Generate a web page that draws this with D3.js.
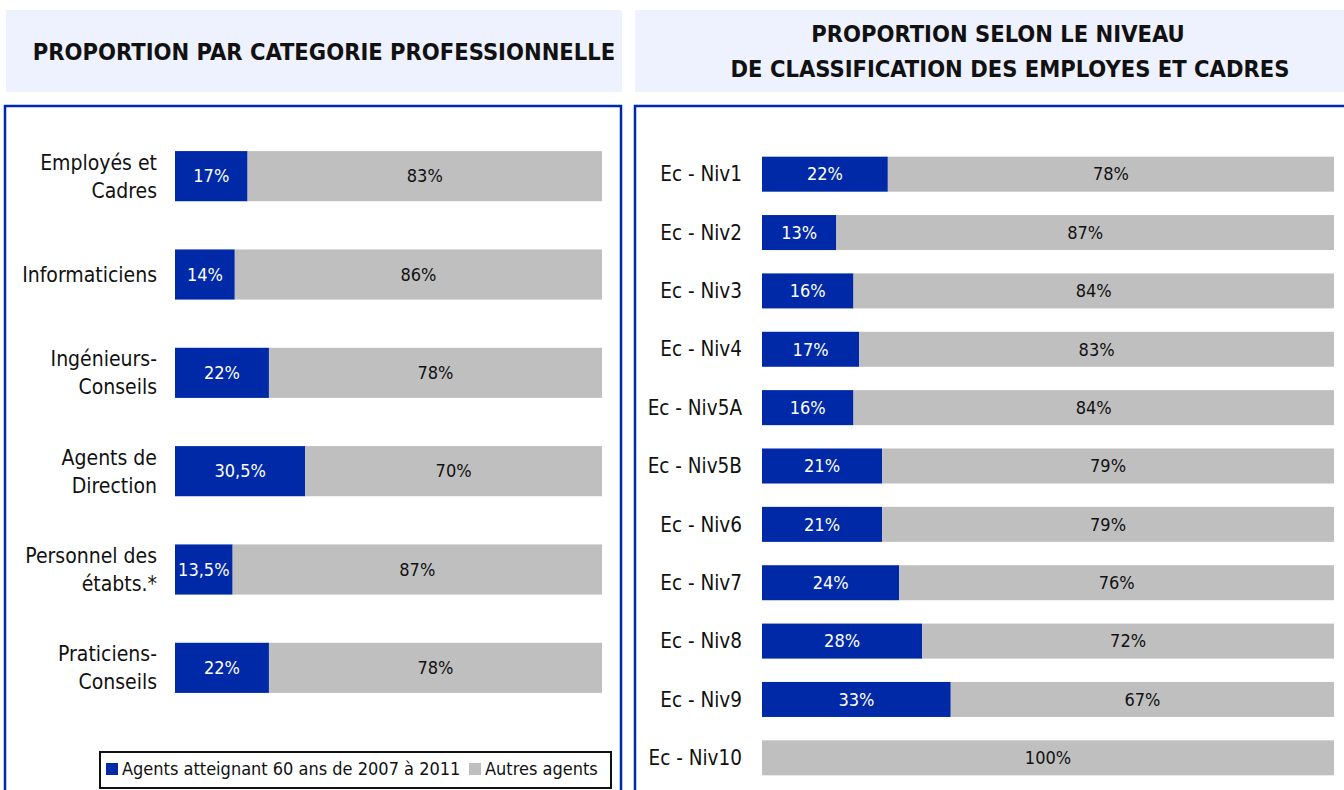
<!DOCTYPE html>
<html>
<head>
<meta charset="utf-8">
<script src="https://cdn.jsdelivr.net/npm/d3@7"></script>
<style>
  body { margin: 0; background: #fff; }
  svg text { font-family: "Liberation Sans Narrow", "DejaVu Sans Condensed", Arial, sans-serif; }
</style>
</head>
<body>
<div id="chart"></div>
<script>
// left panel : categories professionnelles
var catLabels = [["Employés et", "Cadres"], ["Informaticiens"], ["Ingénieurs-", "Conseils"],
                 ["Agents de", "Direction"], ["Personnel des", "étabts.*"], ["Praticiens-", "Conseils"]];
var catAgents = [17, 14, 22, 30.5, 13.5, 22];
var catAutres = [83, 86, 78, 70, 87, 78];

// right panel : niveaux de classification
var nivLabels = ["Ec - Niv1", "Ec - Niv2", "Ec - Niv3", "Ec - Niv4", "Ec - Niv5A", "Ec - Niv5B",
                 "Ec - Niv6", "Ec - Niv7", "Ec - Niv8", "Ec - Niv9", "Ec - Niv10"];
var nivAgents = [22, 13, 16, 17, 16, 21, 21, 24, 28, 33, 0];
var nivAutres = [78, 87, 84, 83, 84, 79, 79, 76, 72, 67, 100];

var legendLabels = ["Agents atteignant 60 ans de 2007 à 2011", "Autres agents"];

var blue = "#0029a8", grey = "#bfbfbf", headerBg = "#eef2fe";
var fmt = function(v) { return String(v).replace(".", ",") + "%"; };

var svg = d3.select("#chart").append("svg")
    .attr("width", 1344)
    .attr("height", 790);

// header boxes
svg.append("rect").attr("x", 6).attr("y", 10).attr("width", 616).attr("height", 82).attr("fill", headerBg);
svg.append("rect").attr("x", 635).attr("y", 10).attr("width", 709).attr("height", 82).attr("fill", headerBg);

function title(x, y, txt) {
    svg.append("text")
        .attr("x", x).attr("y", y)
        .attr("text-anchor", "middle")
        .style("font-size", "23.5px").style("font-weight", "bold").style("fill", "#111")
        .text(txt);
}
title(324, 60, "PROPORTION PAR CATEGORIE PROFESSIONNELLE");
title(998, 42, "PROPORTION SELON LE NIVEAU");
title(1010, 77, "DE CLASSIFICATION DES EMPLOYES ET CADRES");

// panel frames
svg.append("path")
    .attr("d", "M5,800 V106 H621 V800")
    .attr("fill", "none").attr("stroke", blue).attr("stroke-width", 2.5);
svg.append("path")
    .attr("d", "M635,800 V106 H1350")
    .attr("fill", "none").attr("stroke", blue).attr("stroke-width", 2.5);

function drawBars(g, labels, agents, autres, xRange, yRange, pad, labelSize, labelX) {
    var x = d3.scaleLinear().domain([0, 100]).range(xRange);
    var y = d3.scaleBand().domain(d3.range(labels.length)).range(yRange).paddingInner(pad).paddingOuter(pad / 2);
    var data = labels.map(function(l, i) { return { label: l, a: agents[i], b: autres[i], i: i }; });

    var rows = g.selectAll(".row").data(data).enter().append("g").attr("class", "row");

    rows.filter(function(d) { return d.a > 0; }).append("rect")
        .attr("x", x(0))
        .attr("y", function(d) { return y(d.i); })
        .attr("width", function(d) { return x(d.a) - x(0); })
        .attr("height", y.bandwidth())
        .attr("fill", blue);

    rows.append("rect")
        .attr("x", function(d) { return x(d.a); })
        .attr("y", function(d) { return y(d.i); })
        .attr("width", function(d) { return x(100) - x(d.a); })
        .attr("height", y.bandwidth())
        .attr("fill", grey);

    rows.filter(function(d) { return d.a > 0; }).append("text")
        .attr("x", function(d) { return (x(0) + x(d.a)) / 2; })
        .attr("y", function(d) { return y(d.i) + y.bandwidth() / 2; })
        .attr("dy", "0.35em")
        .attr("text-anchor", "middle")
        .style("font-size", "18px").style("fill", "#fff")
        .text(function(d) { return fmt(d.a); });

    rows.append("text")
        .attr("x", function(d) { return (x(d.a) + x(100)) / 2; })
        .attr("y", function(d) { return y(d.i) + y.bandwidth() / 2; })
        .attr("dy", "0.35em")
        .attr("text-anchor", "middle")
        .style("font-size", "18px").style("fill", "#111")
        .text(function(d) { return fmt(d.b); });

    // category labels
    rows.append("text")
        .attr("text-anchor", "end")
        .style("font-size", labelSize).style("fill", "#111")
        .each(function(d) {
            var lines = Array.isArray(d.label) ? d.label : [d.label];
            var cy = y(d.i) + y.bandwidth() / 2;
            var t = d3.select(this);
            lines.forEach(function(line, k) {
                t.append("tspan")
                    .attr("x", labelX)
                    .attr("y", cy + (k - (lines.length - 1) / 2) * 28)
                    .attr("dy", "0.35em")
                    .text(line);
            });
        });
}

drawBars(svg.append("g"), catLabels, catAgents, catAutres, [175, 602], [127, 717], 0.49, "21px", 157);
drawBars(svg.append("g"), nivLabels, nivAgents, nivAutres, [762, 1334], [145, 787], 0.4, "20.5px", 742);

// legend
var lg = svg.append("g");
lg.append("rect")
    .attr("x", 100).attr("y", 752).attr("width", 511).attr("height", 36)
    .attr("fill", "#fff").attr("stroke", "#111").attr("stroke-width", 2);
lg.append("rect").attr("x", 106).attr("y", 763).attr("width", 12).attr("height", 12).attr("fill", blue);
lg.append("text").attr("x", 122).attr("y", 769).attr("dy", "0.35em")
    .style("font-size", "18px").style("fill", "#111").text(legendLabels[0]);
lg.append("rect").attr("x", 469).attr("y", 763).attr("width", 12).attr("height", 12).attr("fill", grey);
lg.append("text").attr("x", 485).attr("y", 769).attr("dy", "0.35em")
    .style("font-size", "18px").style("fill", "#111").text(legendLabels[1]);
</script>
</body>
</html>
